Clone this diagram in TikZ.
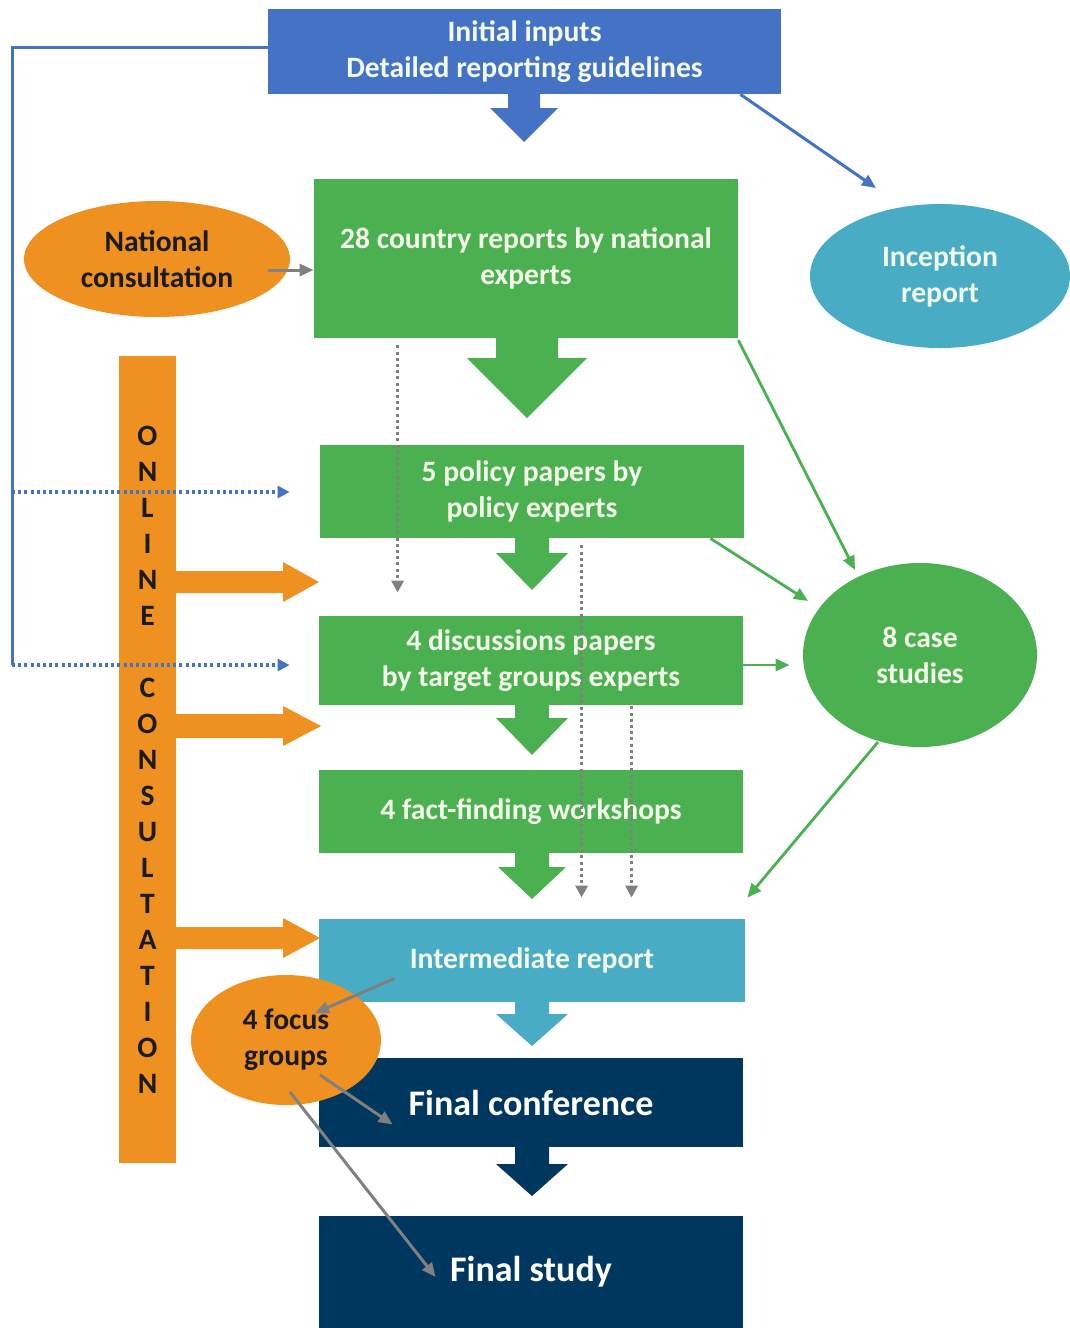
\documentclass[tikz,border=0pt]{standalone}
\usepackage{fontspec}
\setmainfont{Carlito}
\usetikzlibrary{arrows.meta,shapes.geometric,calc}
\definecolor{cblue}{HTML}{4472C4}
\definecolor{cgreen}{HTML}{4BB050}
\definecolor{cteal}{HTML}{48ADC4}
\definecolor{cnavy}{HTML}{00375F}
\definecolor{corange}{HTML}{EE9121}
\definecolor{cgray}{HTML}{808080}
\definecolor{ctext}{HTML}{F4FAEA}
\definecolor{cdark}{HTML}{1A1A1A}
\newcommand\blockdown[7]{\fill[#1] (#2-#6,#3) -- (#2+#6,#3) -- (#2+#6,#4) -- (#2+#7,#4) -- (#2,#5) -- (#2-#7,#4) -- (#2-#6,#4) -- cycle;}
\newcommand\blockright[6]{\fill[corange] (#1,#4-#5) -- (#2,#4-#5) -- (#2,#4-#6) -- (#3,#4) -- (#2,#4+#6) -- (#2,#4+#5) -- (#1,#4+#5) -- cycle;}
\begin{document}
\begin{tikzpicture}[x=0.5pt,y=-0.5pt,
  txt/.style={font=\fontsize{14.8}{18}\selectfont\bfseries, align=center},
  box/.style={rectangle, inner sep=0pt, txt, text=ctext},
  oval/.style={ellipse, inner sep=0pt, txt},
  bline/.style={draw=cblue, line width=1.5pt},
  bdot/.style={draw=cblue, line width=1.7pt, dash pattern=on 1.5pt off 1.6pt, -{Triangle[length=6pt,width=6pt]}},
  garr/.style={draw=cgreen, line width=1.4pt, -{Triangle[length=7pt,width=6pt]}},
  grarr/.style={draw=cgray, line width=1.5pt, -{Triangle[length=7pt,width=6pt]}},
  gdot/.style={draw=cgray, line width=1.7pt, dash pattern=on 1.5pt off 1.6pt, -{Triangle[length=6pt,width=6pt]}},
]
\useasboundingbox (0,0) rectangle (1070,1328);
% orange bar
\node[rectangle, fill=corange, inner sep=0pt, minimum width=28.5pt, minimum height=403.5pt,
  txt, text=cdark] (bar) at (147.5,759.5)
  {O\\N\\L\\I\\N\\E\\\strut\\C\\O\\N\\S\\U\\L\\T\\A\\T\\I\\O\\N};
% boxes
\node[box, fill=cblue, minimum width=256.5pt, minimum height=42.5pt] (init) at (524.5,51.5)
  {Initial inputs\\Detailed reporting guidelines};
\node[box, fill=cgreen, minimum width=212pt, minimum height=79.5pt] (box1) at (526,258.5)
  {28 country reports by national\\experts};
\node[box, fill=cgreen, minimum width=212pt, minimum height=46.5pt] (box2) at (532,491.5)
  {5 policy papers by\\policy experts};
\node[box, fill=cgreen, minimum width=212pt, minimum height=44.5pt] (box3) at (531,660.5)
  {4 discussions papers\\by target groups experts};
\node[box, fill=cgreen, minimum width=212pt, minimum height=41.5pt] (box4) at (531,811.5)
  {4 fact-finding workshops};
\node[box, fill=cteal, minimum width=213pt, minimum height=41.5pt] (inter) at (532,960.5)
  {Intermediate report};
\node[box, fill=cnavy, text=white, minimum width=212pt, minimum height=44.5pt,
  font=\fontsize{18}{20}\selectfont\bfseries] (conf) at (531,1102.5) {Final conference};
\node[box, fill=cnavy, text=white, minimum width=212pt, minimum height=56pt,
  font=\fontsize{18}{20}\selectfont\bfseries] (study) at (531,1272) {Final study};
% block arrows
\blockdown{cblue}{524}{94}{108}{142}{16}{34}
\blockdown{cgreen}{527}{338}{358}{418}{31}{60}
\blockdown{cgreen}{532}{538}{553}{590}{17}{36}
\blockdown{cgreen}{532}{705}{718}{755}{17}{36}
\blockdown{cgreen}{532}{853}{867}{899}{17}{34}
\blockdown{cteal}{532}{1002}{1014}{1046}{17}{36}
\blockdown{cnavy}{532}{1147}{1164}{1196}{17}{36}
\blockright{176}{283}{319}{582}{11}{20}
\blockright{176}{283}{321}{726}{12}{20}
\blockright{176}{283}{320}{938}{11}{20}
% ellipses
\node[oval, fill=corange, text=cdark, minimum width=133pt, minimum height=58pt] (national) at (157,259)
  {National\\consultation};
\node[oval, fill=cteal, text=ctext, minimum width=130pt, minimum height=72pt] (inception) at (940,276)
  {Inception\\report};
\node[oval, fill=cgreen, text=ctext, minimum width=117pt, minimum height=92pt] (case) at (920,655)
  {8 case\\studies};
\node[oval, fill=corange, text=cdark, minimum width=95pt, minimum height=65pt] (focus) at (286,1040)
  {4 focus\\groups};
% coordinates
\coordinate (corner) at (12,47);
\coordinate (midc) at (12,492);
\coordinate (lowc) at (12,665);
% blue connectors
\draw[bline] ([yshift=2.25pt]init.west) -- (corner) -- (lowc);
\draw[bdot] (midc) -- ([xshift=-15pt]box2.west |- midc);
\draw[bdot] (lowc) -- ([xshift=-14.5pt]box3.west |- lowc);
\draw[draw=cblue, line width=1.5pt, -{Triangle[length=7pt,width=6pt]}]
  ($(init.south east)+(-41,0)$) -- ($(inception.center)+(-64,-88)$);
% gray
\draw[grarr] ($(national.east)+(-22,11)$) -- (box1.west |- {$(national.east)+(0,11)$});
% green
\draw[garr] ($(box1.south east)+(0,2)$) -- ($(case.center)+(-65,-85)$);
\draw[garr] ($(box2.south east)+(-34,0)$) -- ($(case.center)+(-112,-54)$);
\draw[garr] ($(box3.east)+(0,4.5)$) -- ($(case.west)+(-13,10)$);
\draw[garr] ($(case.center)+(-42,87)$) -- ($(inter.north east)+(2,-21)$);
% gray dotted
\draw[gdot] ($(box1.south west)+(84,7)$) -- ($(box3.north west)+(79,-23)$);
\draw[gdot] ($(box2.south west)+(262,7)$) -- ($(inter.north west)+(263,-21)$);
\draw[gdot] ($(box3.south west)+(313,1)$) -- ($(inter.north west)+(313,-21)$);
% focus arrows
\draw[grarr] ($(inter.west)+(76,18)$) -- ($(focus.center)+(29,-27)$);
\draw[grarr] ($(focus.center)+(34,35)$) -- ($(conf.west)+(74,22)$);
\draw[grarr] ($(focus.center)+(4,52)$) -- ($(study.west)+(117,5)$);
\end{tikzpicture}
\end{document}
